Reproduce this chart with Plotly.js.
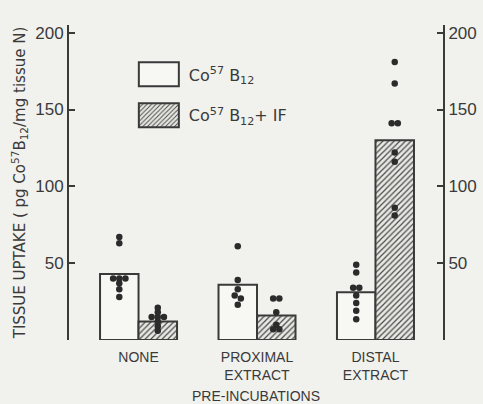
<!DOCTYPE html>
<html><head><meta charset="utf-8">
<script src="https://cdn.plot.ly/plotly-3.0.1.min.js"></script>
<style>html,body{margin:0;padding:0;background:#f1f1ed;}</style>
</head><body><div id="chart" style="width:483px;height:404px;"></div>
<script>
// ---- data ----
const categories = ['NONE', 'PROXIMAL<br>EXTRACT', 'DISTAL<br>EXTRACT'];
const seriesNames = ['Co<sup>57</sup> B<sub>12</sub>', 'Co<sup>57</sup> B<sub>12</sub>+ IF'];
const meanB12 = [43, 36, 31];
const meanB12IF = [12, 16, 130];
const pointsB12None = [67, 63, 40, 40, 40, 37, 33, 28];
const pointsB12Prox = [61, 39, 33, 29, 27, 23];
const pointsB12Dist = [49, 44, 34, 34, 29, 24, 19, 13.5];
const pointsIFNone = [21, 18, 15, 15, 15, 12, 9, 6];
const pointsIFProx = [27, 27, 18, 10, 7, 7];
const pointsIFDist = [181, 167, 141, 141, 122, 116, 86, 81];
const yTickVals = [0, 50, 100, 150, 200];
const yTickText = ['', '50', '100', '150', '200'];
const xTitle = 'PRE-INCUBATIONS';
const yTitle = 'TISSUE UPTAKE ( pg Co<sup>57</sup>B<sub>12</sub>/mg tissue N)';

// ---- styling / layout ----
const INK = '#3a3a3a';
const BG = '#f1f1ed';
const FONT = 'Liberation Sans, Arial, sans-serif';
const WIDE = 'DejaVu Sans, sans-serif';
const W = 0.325;          // bar width (x units)
const STEP = 0.052;       // horizontal spacing of coincident dots
const TOL = 2.5;          // values closer than this are spread sideways

function spread(vals, center) {
  const xs = [], ys = [];
  const s = vals.slice().sort((a, b) => b - a);
  let i = 0;
  while (i < s.length) {
    let j = i + 1;
    while (j < s.length && s[j - 1] - s[j] < TOL) j++;
    const n = j - i;
    for (let k = i; k < j; k++) {
      xs.push(center + (k - i - (n - 1) / 2) * STEP);
      ys.push(s[k]);
    }
    i = j;
  }
  return { xs, ys };
}
function dots(groups, side) {
  const xs = [], ys = [];
  groups.forEach((g, i) => {
    const r = spread(g, i + side * W / 2);
    xs.push(...r.xs); ys.push(...r.ys);
  });
  return { xs, ys };
}
const xIdx = categories.map((_, i) => i);
const d1 = dots([pointsB12None, pointsB12Prox, pointsB12Dist], -1);
const d2 = dots([pointsIFNone, pointsIFProx, pointsIFDist], 1);

const traces = [
  { type: 'bar', x: xIdx, y: meanB12, width: W, offset: -W, name: seriesNames[0],
    marker: { color: '#f7f7f4', line: { color: INK, width: 2 } }, legendgroup: 'a' },
  { type: 'bar', x: xIdx, y: meanB12IF, width: W, offset: 0, name: seriesNames[1],
    marker: { color: '#e4e4e0', line: { color: INK, width: 2 },
      pattern: { shape: '/', fgcolor: '#4a4a4a', bgcolor: '#e8e8e4', size: 4, solidity: 0.3 } },
    legendgroup: 'b' },
  { type: 'scatter', mode: 'markers', x: d1.xs, y: d1.ys, showlegend: false,
    marker: { color: '#2b2b2b', size: 6.5 } },
  { type: 'scatter', mode: 'markers', x: d2.xs, y: d2.ys, yaxis: 'y2', showlegend: false,
    marker: { color: '#2b2b2b', size: 6.5 } }
];

const yCommon = {
  range: [0, 205], tickvals: yTickVals, ticktext: yTickText,
  ticks: 'inside', ticklen: 6, tickwidth: 2, tickcolor: INK,
  showline: true, linewidth: 2, linecolor: INK, showgrid: false, zeroline: false,
  tickfont: { size: 17, color: INK, family: FONT }, fixedrange: true
};

const layout = {
  width: 483, height: 404,
  margin: { l: 69, r: 40, t: 25, b: 64 },
  paper_bgcolor: BG, plot_bgcolor: BG,
  font: { family: FONT, color: INK },
  barmode: 'overlay',
  showlegend: true,
  legend: { x: 0.16, y: 0.897, xanchor: 'left', yanchor: 'top', bgcolor: 'rgba(0,0,0,0)',
    font: { size: 16, color: INK, family: WIDE }, traceorder: 'grouped', tracegroupgap: 17,
    itemwidth: 50 },
  xaxis: {
    range: [-0.587, 2.57], tickvals: xIdx, ticktext: categories, ticks: '',
    showline: false, showgrid: false, zeroline: false, ticklabelstandoff: 7,
    tickfont: { size: 14, color: INK, family: FONT },
    title: { text: xTitle, font: { size: 14, color: INK, family: FONT }, standoff: 13 }
  },
  yaxis: Object.assign({}, yCommon, {
    title: { text: yTitle, font: { size: 15, color: INK, family: WIDE }, standoff: 6 }
  }),
  yaxis2: Object.assign({}, yCommon, { overlaying: 'y', side: 'right', anchor: 'x' })
};

Plotly.newPlot('chart', traces, layout, { displayModeBar: false, staticPlot: true }).then(gd => {
  gd.querySelectorAll('.legend .traces .legendpoints path').forEach(p => {
    p.setAttribute('d', 'M-20,-12H20V12H-20Z');
  });
});
</script></body></html>
